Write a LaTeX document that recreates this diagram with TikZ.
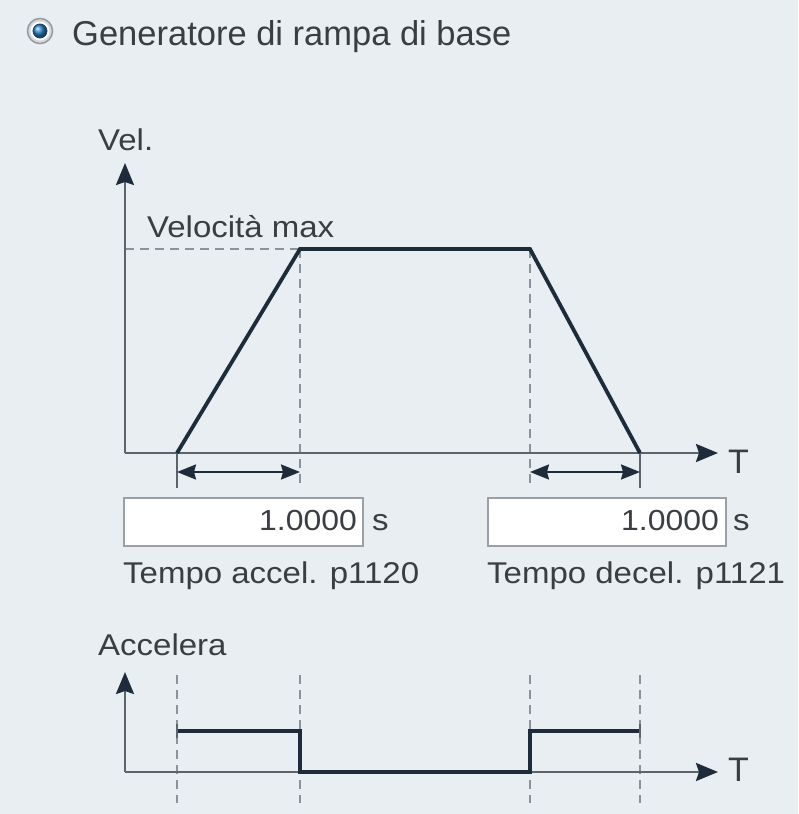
\documentclass[tikz,border=0pt]{standalone}
\usepackage{fontspec}
\setmainfont{Liberation Sans}
\newfontfamily\widefont[FakeStretch=1.1]{Liberation Sans}
\usetikzlibrary{arrows.meta}
\definecolor{bg}{HTML}{E9EEF3}
\definecolor{navy}{HTML}{1E2B3A}
\definecolor{axisgray}{HTML}{5C636B}
\definecolor{dashgray}{HTML}{8C9299}
\definecolor{txt}{HTML}{3A3D42}
\definecolor{boxedge}{HTML}{9AA0A6}
\definecolor{rbouter}{HTML}{D5D9DE}
\definecolor{rbring}{HTML}{969BA2}
\definecolor{rbblue}{HTML}{2882C8}
\definecolor{rbedge}{HTML}{1E3C5F}
\tikzset{
  axisline/.style={line width=2.5pt, axisgray, -{Stealth[length=22pt,width=18pt,inset=3pt,color=navy]}},
  curve/.style={line width=3.8pt, navy, line join=miter},
  guide/.style={line width=2pt, dashgray, dash pattern=on 9pt off 6pt},
  tick/.style={line width=2.5pt, axisgray},
  span/.style={line width=2pt, navy, {Stealth[length=19pt,width=15pt,inset=2pt]}-{Stealth[length=19pt,width=15pt,inset=2pt]}},
  lbl/.style={anchor=base west, inner sep=0pt, text=txt, font=\widefont\fontsize{30}{36}\selectfont},
  axlbl/.style={anchor=base west, inner sep=0pt, text=txt, font=\fontsize{34}{40}\selectfont},
  valbox/.style={draw=boxedge, fill=white, line width=1.5pt, inner sep=0pt},
  val/.style={anchor=base east, inner sep=0pt, text=txt, font=\widefont\fontsize{29}{36}\selectfont},
}
\begin{document}
\begin{tikzpicture}[x=1pt,y=-1pt]
\fill[bg] (0,0) rectangle (798,814);
\useasboundingbox (0,0) rectangle (798,814);

% radio button
\coordinate (rb) at (40,31);
\fill[rbouter] (rb) circle (13.5);
\draw[line width=1.4pt, rbring] (rb) circle (12.5);
\fill[white] (rb) circle (9.5);
\shade[ball color=rbblue] (rb) circle (7);
\draw[line width=0.8pt, rbedge] (rb) circle (7);
\node[anchor=base west, inner sep=0pt, text=txt, font=\fontsize{34.5}{40}\selectfont] (title) at (72,45) {Generatore di rampa di base};

% ---------- top graph ----------
\coordinate (O) at (125,453);
\coordinate (ytip) at (125,163);
\coordinate (xtip) at (718,453);
\coordinate (a0) at (177,453);
\coordinate (a1) at (300,249);
\coordinate (d0) at (530,249);
\coordinate (d1) at (640,453);
\coordinate (vm) at (125,249);

\draw[guide] (vm) -- (a1);
\draw[guide] (a1) -- (300,487);
\draw[guide] (d0) -- (530,487);
\draw[axisline] (O) -- (ytip);
\draw[axisline] (O) -- (xtip);
\draw[tick] (a0) -- (177,488);
\draw[tick] (d1) -- (640,488);
\draw[curve] (a0) -- (a1) -- (d0) -- (d1);
\draw[span] (177,472) -- (300,472);
\draw[span] (530,472) -- (640,472);

\node[lbl] (vel) at (98,150) {Vel.};
\node[lbl] (vmax) at (147,237) {Velocità max};
\node[axlbl] (T1) at (728,473) {T};

% value boxes
\node[valbox, minimum width=239pt, minimum height=48pt, anchor=north west] (box1) at (123,497) {};
\node[val] (v1) at (357,530) {1.0000};
\node[lbl] (s1) at (372,530) {s};
\node[lbl] (acc) at (123,583) {Tempo accel. p1120};

\node[valbox, minimum width=238pt, minimum height=48pt, anchor=north west] (box2) at (487,497) {};
\node[val] (v2) at (719,530) {1.0000};
\node[lbl] (s2) at (733,530) {s};
\node[lbl] (dec) at (487,583) {Tempo decel. p1121};

% ---------- bottom graph ----------
\coordinate (O2) at (125,772);
\coordinate (ytip2) at (125,672);
\coordinate (xtip2) at (718,772);
\foreach \x in {177,300,530,640} \draw[guide] (\x,675) -- (\x,803);
\draw[axisline] (O2) -- (ytip2);
\draw[axisline] (O2) -- (xtip2);
\draw[curve] (177,731) -- (300,731) -- (300,772) -- (530,772) -- (530,731) -- (640,731);
\draw[tick] (177,724) -- (177,738);
\draw[tick] (640,724) -- (640,738);
\node[lbl] (accel) at (98,655) {Accelera};
\node[axlbl] (T2) at (728,781) {T};
\end{tikzpicture}
\end{document}
